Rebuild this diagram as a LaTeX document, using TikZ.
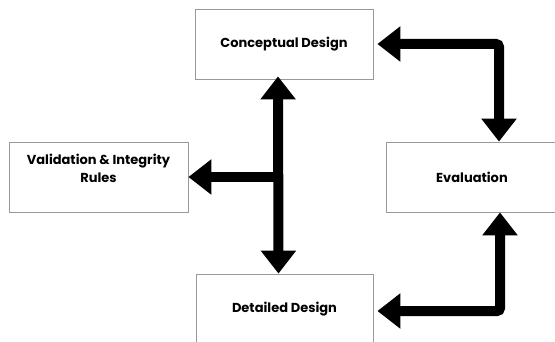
\documentclass[tikz,border=0pt]{standalone}
\usepackage{fontspec}
\setmainfont{Poppins}
\usepackage{tikz}
\usetikzlibrary{arrows.meta}

\begin{document}
\begin{tikzpicture}[x=1pt, y=-1pt,
    caixa/.style={draw=gray!80, line width=0.8pt, minimum height=70pt, inner sep=0pt,
        align=center, font=\bfseries\fontsize{13}{18}\selectfont},
    seta/.style={line width=10pt, -{Triangle[length=23pt,width=34pt]}},
    setadupla/.style={line width=10pt, {Triangle[length=23pt,width=34pt]}-{Triangle[length=23pt,width=34pt]}}]
    \useasboundingbox (0,0) rectangle (555,342);
    % Caixas
    \node[caixa, minimum width=178pt] (concept) at (284,44) {Conceptual Design};
    \node[caixa, minimum width=179pt] (validation) at (98.5,177) {Validation \& Integrity\\Rules\\ };
    \node[caixa, minimum width=172pt] (evaluation) at (472,177) {Evaluation};
    \node[caixa, minimum width=177pt] (detail) at (284.5,309) {Detailed Design};
    % Setas
    \draw[setadupla] ([xshift=-6pt, yshift=3pt]concept.south) -- ([xshift=-6pt]detail.north);
    \coordinate (juncao) at ([xshift=-6pt]concept.south |- validation.east);
    \draw[seta] (juncao) -- (validation.east);
    \draw[setadupla, rounded corners=3pt] ([xshift=4pt]concept.east) -| ([xshift=27pt]evaluation.north);
    \draw[setadupla, rounded corners=3pt] ([xshift=28pt]evaluation.south) |- ([xshift=4pt, yshift=-2pt]detail.east);
\end{tikzpicture}
\end{document}
